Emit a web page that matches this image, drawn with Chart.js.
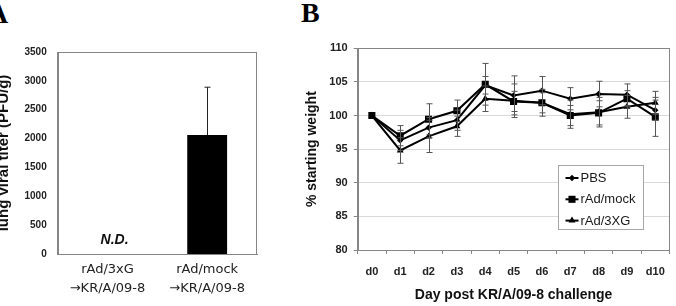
<!DOCTYPE html>
<html>
<head>
<meta charset="utf-8">
<script src="https://cdn.jsdelivr.net/npm/chart.js@4"></script>
<style>
  html, body { margin: 0; padding: 0; background: #fff; }
  body { width: 676px; height: 306px; position: relative; overflow: hidden; }
  .panel { position: absolute; top: 0; }
  .tag { position: absolute; font-family: "Liberation Serif", serif; font-weight: bold; font-size: 28px; line-height: 28px; color: #000; }
</style>
</head>
<body>
<div class="tag" style="left:-12px; top:0px;">A</div>
<div class="tag" style="left:301px; top:-1px;">B</div>
<div class="panel" style="left:-14px; width:276px; height:306px;"><canvas id="chartA" width="276" height="306"></canvas></div>
<div class="panel" style="left:262px; width:414px; height:306px;"><canvas id="chartB" width="414" height="306"></canvas></div>
<script>
// ---------- Panel A data ----------
const groupsA = [["rAd/3xG", "\u2192KR/A/09-8"], ["rAd/mock", "\u2192KR/A/09-8"]];
const titerA = [null, 2060];
const titerErrA = [0, 830];
const ndLabel = "N.D.";
const titleA = "lung viral titer (PFU/g)";

// ---------- Panel B data ----------
const days = ["d0", "d1", "d2", "d3", "d4", "d5", "d6", "d7", "d8", "d9", "d10"];
const pbs     = [100, 96.3, 98.2, 99.3, 104.5, 103.0, 103.7, 102.5, 103.2, 103.1, 100.8];
const pbsErr  = [0, 1.5, 1.5, 1.5, 1.3, 2.9, 2.1, 1.65, 1.9, 1.6, 1.5];
const mock    = [100, 97.0, 99.45, 100.7, 104.65, 102.1, 101.9, 100.0, 100.4, 102.5, 99.8];
const mockErr = [0, 1.5, 2.3, 1.6, 3.1, 1.5, 1.5, 1.5, 1.8, 1.2, 2.9];
const xg      = [100, 94.8, 96.9, 98.4, 102.5, 102.2, 101.9, 100.2, 100.5, 101.3, 101.9];
const xgErr   = [0, 1.9, 2.4, 1.5, 1.9, 2.5, 2.0, 2.1, 2.2, 1.7, 1.7];
const seriesNames = ["PBS", "rAd/mock", "rAd/3XG"];
const titleBx = "Day post KR/A/09-8 challenge";
const titleBy = "% starting weight";

const AXIS = "#868686";
const GRID = "#d9d9d9";

const boxPlugin = {
  id: "box",
  afterDraw(chart) {
    const { ctx, chartArea: a } = chart;
    ctx.save();
    ctx.strokeStyle = AXIS;
    ctx.lineWidth = 1;
    ctx.strokeRect(Math.round(a.left) + 0.5, Math.round(a.top) + 0.5,
                   Math.round(a.right - a.left) - 1, Math.round(a.bottom - a.top));
    ctx.restore();
  }
};

// error bars (generic): dataset.errors
const errPlugin = {
  id: "errbars",
  afterDatasetsDraw(chart) {
    const { ctx } = chart;
    const ys = chart.scales.y;
    chart.data.datasets.forEach((ds, di) => {
      const meta = chart.getDatasetMeta(di);
      if (!ds.errors) return;
      meta.data.forEach((el, i) => {
        const v = ds.data[i], e = ds.errors[i];
        if (v == null || !e) return;
        const x = Math.round(el.x) + 0.5;
        const yTop = ys.getPixelForValue(v + e);
        const yBot = ds.errUpOnly ? ys.getPixelForValue(v) : ys.getPixelForValue(v - e);
        const cap = ds.capHalf || 3;
        ctx.save();
        ctx.strokeStyle = ds.errColor || "#444";
        ctx.lineWidth = 1;
        ctx.beginPath();
        ctx.moveTo(x, yTop); ctx.lineTo(x, yBot);
        ctx.moveTo(x - cap, yTop); ctx.lineTo(x + cap, yTop);
        if (!ds.errUpOnly) { ctx.moveTo(x - cap, yBot); ctx.lineTo(x + cap, yBot); }
        ctx.stroke();
        ctx.restore();
      });
    });
  }
};

const ndPlugin = {
  id: "nd",
  afterDraw(chart) {
    const { ctx } = chart;
    const x = chart.scales.x.getPixelForValue(0) + 7;
    const y = chart.scales.y.bottom - 14;
    ctx.save();
    ctx.font = "italic bold 14px 'Liberation Sans', Arial, sans-serif";
    ctx.fillStyle = "#111";
    ctx.textAlign = "center";
    ctx.textBaseline = "middle";
    ctx.fillText(ndLabel, x, y);
    ctx.restore();
  }
};

new Chart(document.getElementById("chartA"), {
  type: "bar",
  data: {
    labels: groupsA,
    datasets: [{
      data: titerA,
      errors: titerErrA,
      errUpOnly: true,
      capHalf: 3,
      errColor: "#222",
      backgroundColor: "#000",
      borderWidth: 0,
      barPercentage: 0.4,
      categoryPercentage: 1.0
    }]
  },
  options: {
    responsive: false,
    animation: false,
    devicePixelRatio: 1,
    layout: { padding: { top: 52, right: 5, bottom: 0, left: 0 } },
    plugins: { legend: { display: false }, tooltip: { enabled: false } },
    scales: {
      x: {
        grid: { display: false, drawTicks: false },
        border: { color: AXIS },
        ticks: { color: "#222", padding: 7, font: { family: "'DejaVu Sans', sans-serif", size: 13, lineHeight: 1.4 } },
        afterFit(s) { s.height = 52; }
      },
      y: {
        min: 0, max: 3500,
        grid: { display: false, drawTicks: false },
        border: { color: AXIS },
        ticks: { stepSize: 500, color: "#222", padding: 11, callback: (v) => String(v), font: { family: "'Liberation Sans', Arial, sans-serif", size: 10, weight: "bold" } },
        title: { display: true, text: titleA, color: "#111", padding: { top: 9, bottom: 0 }, font: { family: "'Liberation Sans', Arial, sans-serif", size: 15, weight: "bold" } },
        afterFit(s) { s.width = 71.7; }
      }
    }
  },
  plugins: [boxPlugin, errPlugin, ndPlugin]
});

const legendPlugin = {
  id: "insideLegend",
  afterDraw(chart) {
    const { ctx, chartArea: a } = chart;
    const bx = Math.round(a.right - 111) + 0.5, by = 165.5, bw = 85, bh = 64;
    ctx.save();
    ctx.fillStyle = "#fff";
    ctx.fillRect(bx, by, bw, bh);
    ctx.strokeStyle = "#a6a6a6";
    ctx.lineWidth = 1;
    ctx.strokeRect(bx, by, bw, bh);
    chart.data.datasets.forEach((ds, i) => {
      const cy = by + 12.5 + i * 21.3;
      const lx0 = bx + 7, lx1 = bx + 20;
      ctx.strokeStyle = "#000";
      ctx.lineWidth = 2;
      ctx.beginPath(); ctx.moveTo(lx0, cy); ctx.lineTo(lx1, cy); ctx.stroke();
      ctx.fillStyle = "#000";
      Chart.helpers.drawPoint(ctx, { pointStyle: ds.pointStyle, radius: ds.pointRadius, rotation: 0, borderWidth: 0 }, (lx0 + lx1) / 2, cy);
      ctx.fillStyle = "#1a1a1a";
      ctx.font = "13px 'Liberation Sans', Arial, sans-serif";
      ctx.textAlign = "left";
      ctx.textBaseline = "middle";
      ctx.fillText(ds.label, bx + 22, cy + 0.5);
    });
    ctx.restore();
  }
};

function lineDs(label, data, errors, style, r) {
  return {
    label, data, errors,
    capHalf: 3,
    errColor: "#555",
    borderColor: "#000",
    backgroundColor: "#000",
    borderWidth: 2,
    pointStyle: style,
    pointRadius: r,
    pointBorderWidth: 0,
    pointBackgroundColor: "#000",
    tension: 0
  };
}

new Chart(document.getElementById("chartB"), {
  type: "line",
  data: {
    labels: days,
    datasets: [
      lineDs(seriesNames[0], pbs, pbsErr, "rectRot", 3.2),
      lineDs(seriesNames[1], mock, mockErr, "rect", 5),
      lineDs(seriesNames[2], xg, xgErr, "triangle", 4)
    ]
  },
  options: {
    responsive: false,
    animation: false,
    devicePixelRatio: 1,
    layout: { padding: { top: 48.3, right: 3, bottom: 0, left: 0 } },
    plugins: { legend: { display: false }, tooltip: { enabled: false } },
    scales: {
      x: {
        offset: true,
        grid: { display: true, drawOnChartArea: false, offset: true, tickLength: 4, tickColor: AXIS, color: AXIS },
        border: { color: AXIS },
        ticks: { color: "#222", padding: 11, font: { family: "'Liberation Sans', Arial, sans-serif", size: 11, weight: "bold" } },
        title: { display: true, text: titleBx, color: "#111", padding: { top: 0, bottom: 2 }, font: { family: "'Liberation Sans', Arial, sans-serif", size: 14, weight: "bold" } },
        afterFit(s) { s.height = 56; }
      },
      y: {
        min: 80, max: 110,
        grid: { color: GRID, tickColor: AXIS, tickLength: 4 },
        border: { color: AXIS },
        ticks: { stepSize: 5, color: "#222", padding: 6, font: { family: "'Liberation Sans', Arial, sans-serif", size: 11, weight: "bold" } },
        title: { display: true, text: titleBy, color: "#111", padding: { top: 41.5, bottom: 0 }, font: { family: "'Liberation Sans', Arial, sans-serif", size: 14, weight: "bold" } },
        afterFit(s) { s.width = 95.7; }
      }
    }
  },
  plugins: [boxPlugin, errPlugin, legendPlugin]
});
</script>
</body>
</html>
